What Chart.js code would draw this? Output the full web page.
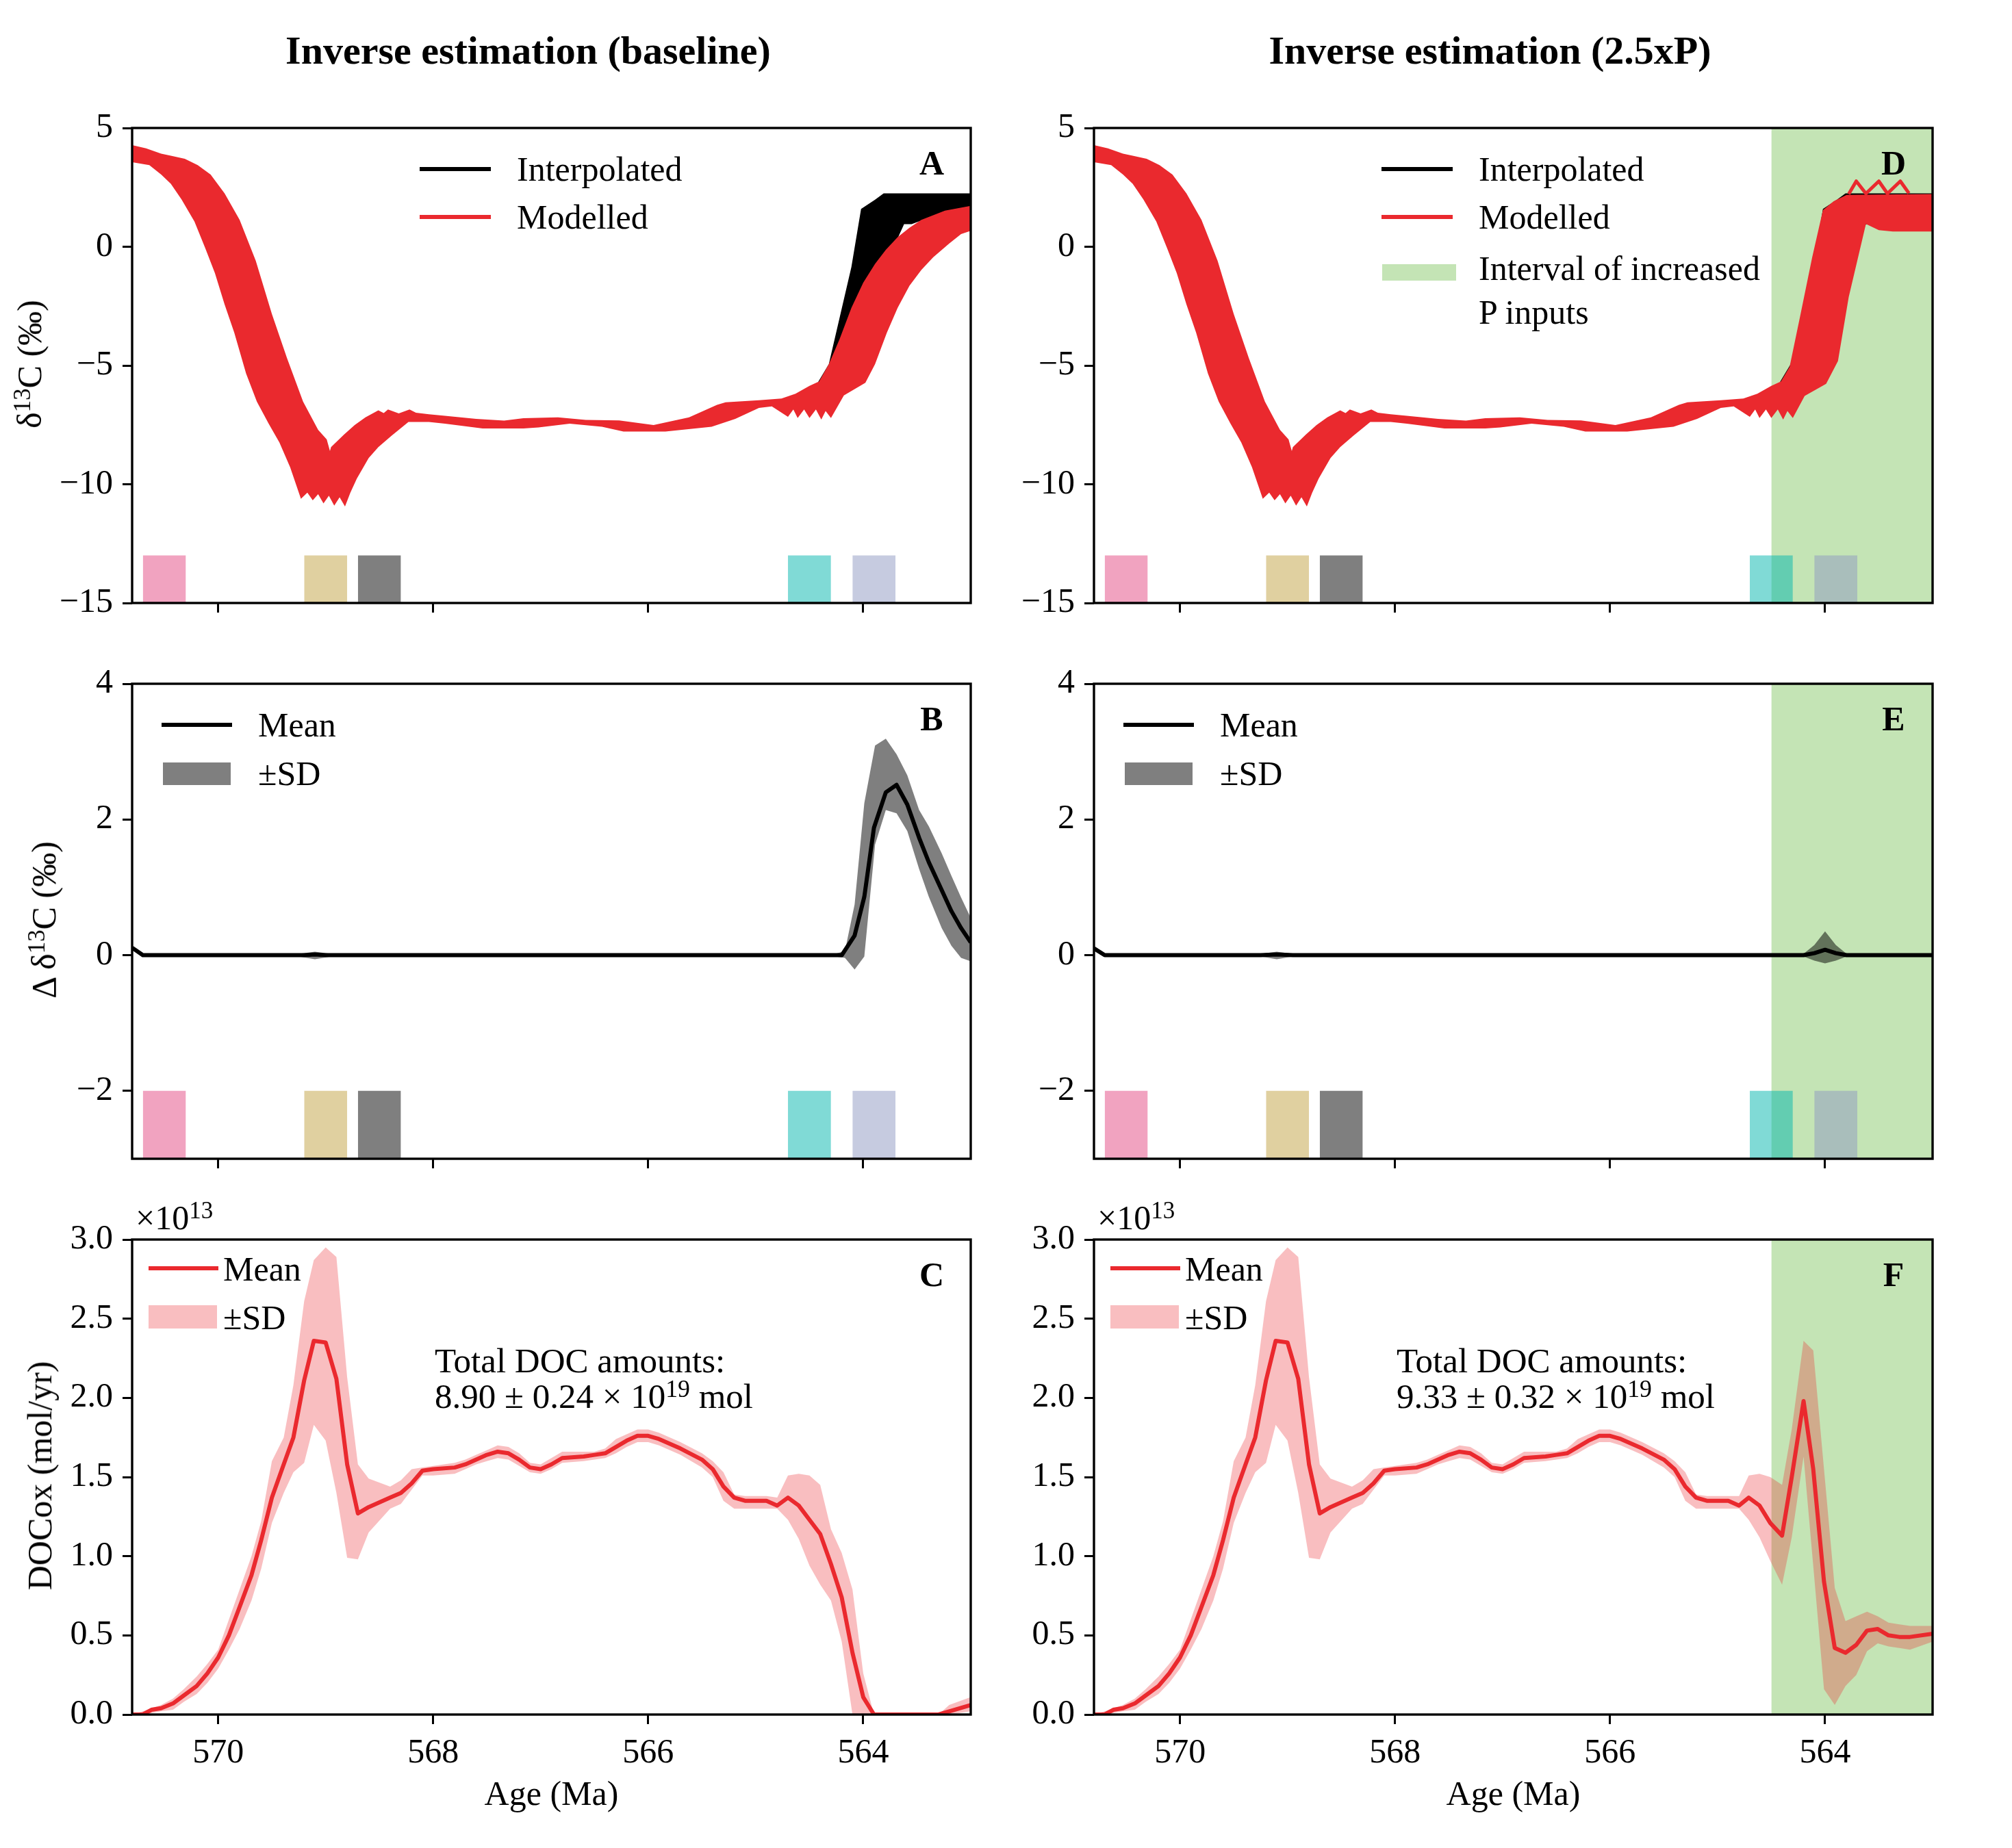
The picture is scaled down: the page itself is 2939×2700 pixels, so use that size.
<!DOCTYPE html>
<html>
<head>
<meta charset="utf-8">
<script src="https://cdn.jsdelivr.net/npm/chart.js@4.4.1/dist/chart.umd.min.js"></script>
<style>
  html, body { margin: 0; padding: 0; background: #fff; }
  body { position: relative; width: 2939px; height: 2700px; overflow: hidden;
         font-family: "Liberation Serif", "Times New Roman", serif; color: #000; }
  canvas { position: absolute; }
  .lbl { position: absolute; white-space: nowrap; font-size: 50px; line-height: 50px; transform: translateY(-50%); }
  .sup { font-size: 70%; position: relative; top: -0.45em; line-height: 0; }
</style>
</head>
<body>
<script>
// ---- data (ages in Ma) ----
const ageTicks = [570, 568, 566, 564];
const d13Ticks = [-15, -10, -5, 0, 5];
const dd13Ticks = [-2, 0, 2, 4];
const docTicks = [0, 0.5, 1, 1.5, 2, 2.5, 3];

// sample bars at the bottom of panels A, B, D, E
const barStart = [570.7, 569.2, 568.7, 564.7, 564.1];
const barEnd = [570.3, 568.8, 568.3, 564.3, 563.7];
// interval of increased P inputs (panels D-F)
const pInterval = [564.5, 563.0];

// modelled d13C envelope, shared part
const ageRedTop = [570.81, 570.67, 570.53, 570.44, 570.31, 570.19, 570.07, 569.94, 569.80, 569.65, 569.50, 569.36, 569.21, 569.07, 568.99, 568.96, 568.95, 568.83, 568.73, 568.63, 568.51, 568.46, 568.42, 568.32, 568.22, 568.16, 568.04, 567.89, 567.60, 567.34, 567.16, 566.84, 566.58, 566.27, 565.95, 565.62, 565.36, 565.28, 564.97, 564.76, 564.63, 564.50, 564.41];
const redTop = [4.29, 4.14, 3.92, 3.83, 3.70, 3.44, 3.04, 2.25, 1.13, -0.59, -2.83, -4.68, -6.52, -7.71, -8.11, -8.60, -8.44, -7.91, -7.51, -7.18, -6.89, -7.00, -6.85, -7.02, -6.85, -6.99, -7.05, -7.12, -7.25, -7.32, -7.22, -7.18, -7.29, -7.31, -7.51, -7.18, -6.66, -6.55, -6.46, -6.39, -6.19, -5.86, -5.67];
const ageRedBot = [570.81, 570.64, 570.53, 570.44, 570.34, 570.22, 570.12, 570.03, 569.94, 569.85, 569.74, 569.64, 569.53, 569.43, 569.33, 569.23, 569.17, 569.12, 569.07, 569.02, 568.97, 568.92, 568.87, 568.82, 568.77, 568.71, 568.60, 568.51, 568.39, 568.23, 568.04, 567.89, 567.54, 567.16, 567.02, 566.73, 566.43, 566.23, 565.84, 565.41, 565.19, 564.97, 564.85, 564.70, 564.65, 564.61, 564.55, 564.50, 564.44, 564.39, 564.35, 564.30];
const redBot = [3.57, 3.44, 3.04, 2.65, 1.99, 1.06, -0.06, -1.11, -2.43, -3.62, -5.34, -6.52, -7.45, -8.24, -9.29, -10.61, -10.35, -10.68, -10.42, -10.81, -10.48, -10.90, -10.55, -10.94, -10.35, -9.76, -8.90, -8.44, -7.97, -7.38, -7.38, -7.45, -7.65, -7.65, -7.61, -7.45, -7.58, -7.78, -7.78, -7.58, -7.25, -6.79, -6.72, -7.16, -6.85, -7.21, -6.85, -7.21, -6.85, -7.28, -6.92, -7.21];
// baseline run, last part
const ageRedTopA = [564.32, 564.22, 564.11, 564.00, 563.89, 563.79, 563.68, 563.57, 563.46, 563.24, 563.00];
const redTopA = [-4.94, -3.89, -2.57, -1.51, -0.72, -0.13, 0.40, 0.80, 1.13, 1.52, 1.72];
const ageRedBotA = [564.18, 563.98, 563.89, 563.78, 563.68, 563.57, 563.46, 563.35, 563.20, 563.09, 563.00];
const redBotA = [-6.26, -5.73, -4.94, -3.62, -2.57, -1.64, -0.98, -0.45, 0.14, 0.53, 0.67];
// 2.5xP run, last part
const ageRedTopD = [564.33, 564.23, 564.12, 564.02, 563.92, 563.80, 563.00];
const redTopD = [-5.06, -2.88, -0.45, 1.54, 1.92, 2.18, 2.22];
const ageRedBotD = [564.19, 563.99, 563.88, 563.78, 563.62, 563.50, 563.37, 563.00];
const redBotD = [-6.28, -5.77, -4.81, -2.12, 0.96, 0.70, 0.64, 0.64];
// thin zigzag on top of the 2.5xP envelope
const ageZigD = [563.78, 563.71, 563.62, 563.50, 563.42, 563.30, 563.22];
const zigD = [2.22, 2.76, 2.24, 2.76, 2.24, 2.76, 2.25];
// interpolated record (visible part)
const ageInterpTop = [564.42, 564.32, 564.11, 564.02, 563.89, 563.81, 563.00];
const interpTop = [-5.70, -4.94, -0.85, 1.59, 1.98, 2.25, 2.25];
const ageInterpBot = [564.42, 564.32, 564.11, 564.00, 563.89, 563.79, 563.68, 563.62, 563.55, 563.46, 563.24, 563.00];
const interpBot = [-5.80, -5.10, -2.80, -1.70, -0.90, -0.25, 0.35, 0.95, 0.95, 1.10, 1.50, 1.70];

// panel B: delta d13C
const ageMeanB = [570.8, 570.7, 569.2, 569.1, 569.0, 564.2, 564.08, 563.99, 563.9, 563.79, 563.69, 563.59, 563.48, 563.39, 563.27, 563.18, 563.09, 563.0];
const meanB = [0.11, 0, 0, 0.01, 0, 0, 0.29, 0.86, 1.88, 2.40, 2.51, 2.22, 1.73, 1.37, 0.96, 0.65, 0.40, 0.19];
const ageSdB = [570.8, 570.7, 569.25, 569.1, 568.95, 564.26, 564.17, 564.08, 563.99, 563.89, 563.79, 563.69, 563.59, 563.48, 563.39, 563.27, 563.18, 563.09, 563.0];
const sdTopB = [0.12, 0.02, 0.02, 0.05, 0.02, 0.02, 0.06, 0.75, 2.24, 3.09, 3.19, 2.96, 2.65, 2.14, 1.90, 1.50, 1.17, 0.85, 0.55];
const sdBotB = [0.10, -0.02, -0.02, -0.06, -0.02, -0.02, -0.04, -0.21, -0.02, 1.63, 2.14, 2.09, 1.83, 1.27, 0.86, 0.40, 0.14, -0.04, -0.09];

// panel E
const ageE = [570.8, 570.7, 569.25, 569.1, 568.95, 564.2, 564.1, 564.0, 563.9, 563.8, 563.0];
const meanE = [0.10, 0, 0, 0.01, 0, 0, 0.03, 0.08, 0.03, 0, 0];
const sdTopE = [0.12, 0.02, 0.02, 0.05, 0.02, 0.02, 0.15, 0.35, 0.15, 0.02, 0.02];
const sdBotE = [0.08, -0.02, -0.02, -0.06, -0.02, -0.02, -0.08, -0.12, -0.08, -0.02, -0.02];

// panel C: DOCox (x 1e13 mol/yr)
const ageC = [570.8, 570.7, 570.62, 570.53, 570.42, 570.32, 570.2, 570.1, 570.0, 569.9, 569.8, 569.69, 569.6, 569.5, 569.39, 569.3, 569.2, 569.11, 569.0, 568.9, 568.8, 568.7, 568.6, 568.4, 568.3, 568.2, 568.1, 568.0, 567.8, 567.7, 567.6, 567.5, 567.4, 567.3, 567.2, 567.1, 567.0, 566.9, 566.8, 566.6, 566.5, 566.4, 566.3, 566.2, 566.1, 566.0, 565.9, 565.7, 565.5, 565.4, 565.3, 565.2, 565.1, 564.9, 564.8, 564.7, 564.6, 564.5, 564.4, 564.3, 564.2, 564.1, 564.0, 563.9, 563.3, 563.2, 563.0];
const meanC = [0, 0, 0.03, 0.04, 0.07, 0.12, 0.18, 0.26, 0.36, 0.50, 0.68, 0.88, 1.10, 1.37, 1.58, 1.75, 2.11, 2.36, 2.35, 2.12, 1.58, 1.27, 1.31, 1.37, 1.40, 1.46, 1.54, 1.55, 1.56, 1.58, 1.61, 1.64, 1.66, 1.65, 1.61, 1.56, 1.55, 1.58, 1.62, 1.63, 1.64, 1.65, 1.69, 1.73, 1.76, 1.76, 1.74, 1.68, 1.61, 1.55, 1.44, 1.37, 1.35, 1.35, 1.32, 1.37, 1.32, 1.23, 1.14, 0.95, 0.74, 0.39, 0.11, 0, 0, 0.02, 0.06];
const sdTopC = [0, 0.02, 0.04, 0.06, 0.10, 0.16, 0.24, 0.32, 0.41, 0.60, 0.79, 1.00, 1.22, 1.60, 1.75, 2.08, 2.61, 2.87, 2.95, 2.89, 2.13, 1.58, 1.49, 1.44, 1.48, 1.55, 1.56, 1.57, 1.59, 1.61, 1.64, 1.67, 1.70, 1.69, 1.65, 1.59, 1.58, 1.62, 1.66, 1.66, 1.66, 1.68, 1.74, 1.77, 1.80, 1.80, 1.78, 1.72, 1.65, 1.60, 1.53, 1.39, 1.38, 1.38, 1.37, 1.51, 1.52, 1.51, 1.45, 1.17, 1.02, 0.79, 0.26, 0, 0, 0.06, 0.11];
const sdBotC = [0, 0, 0.01, 0.02, 0.03, 0.08, 0.13, 0.20, 0.29, 0.41, 0.54, 0.72, 0.92, 1.21, 1.40, 1.53, 1.59, 1.83, 1.73, 1.40, 0.99, 0.98, 1.15, 1.30, 1.33, 1.42, 1.51, 1.51, 1.52, 1.55, 1.58, 1.60, 1.62, 1.61, 1.57, 1.53, 1.52, 1.55, 1.59, 1.60, 1.61, 1.62, 1.65, 1.69, 1.72, 1.72, 1.70, 1.64, 1.56, 1.50, 1.35, 1.30, 1.30, 1.30, 1.30, 1.23, 1.11, 0.94, 0.82, 0.72, 0.46, 0, 0, 0, 0, 0, 0.02];

// panel F: same as C up to 564.9 Ma, then the 2.5xP tail
const ageTailF = [564.8, 564.71, 564.61, 564.51, 564.4, 564.31, 564.2, 564.11, 564.01, 563.91, 563.81, 563.71, 563.61, 563.51, 563.41, 563.31, 563.21, 563.0];
const meanTailF = [1.32, 1.37, 1.32, 1.21, 1.13, 1.50, 1.98, 1.55, 0.84, 0.42, 0.39, 0.44, 0.53, 0.54, 0.50, 0.49, 0.49, 0.51];
const sdTopTailF = [1.38, 1.51, 1.52, 1.50, 1.45, 1.80, 2.36, 2.30, 1.55, 0.80, 0.59, 0.62, 0.65, 0.62, 0.58, 0.57, 0.56, 0.56];
const sdBotTailF = [1.30, 1.23, 1.12, 0.97, 0.82, 1.12, 1.63, 0.94, 0.16, 0.06, 0.18, 0.25, 0.40, 0.45, 0.43, 0.42, 0.41, 0.46];

// ---- layout ----
const COL = [193, 1598], ROW = [183, 995, 1807], W = 1225, H = 698;
const PADL = 180, PADT = 40, PADR = 20, PADB = 100;
const RED = 'rgb(234,41,46)';
const GREEN = 'rgb(196,228,181)';
const barColors = ['rgba(227,71,129,.5)', 'rgba(193,161,65,.5)', 'rgba(0,0,0,.5)', 'rgba(1,181,173,.5)', 'rgba(141,151,193,.5)'];

Chart.defaults.font.family = '"Liberation Serif", "Times New Roman", serif';
Chart.defaults.font.size = 50;
Chart.defaults.color = '#000';

const pts = (ages, vals) => ages.map((a, i) => ({ x: a, y: vals[i] }));
const minus = v => (v < 0 ? '\u2212' + Math.abs(v) : String(v));
const cut = ageC.indexOf(564.9) + 1;

function band(agesTop, top, agesBot, bot, color, order) {
  return [
    { data: pts(agesTop, top), borderWidth: 0, borderColor: 'transparent', fill: false, order },
    { data: pts(agesBot, bot), borderWidth: 0, borderColor: 'transparent', backgroundColor: color, fill: '-1', order }
  ];
}
function block(a0, a1, yTop, yBase, color, order) {
  return { data: [{ x: a0, y: yTop }, { x: a1, y: yTop }], borderWidth: 0, borderColor: 'transparent',
           backgroundColor: color, fill: { value: yBase }, order };
}
function line(ages, vals, color, order, width) {
  return { data: pts(ages, vals), borderColor: color, borderWidth: width || 6, fill: false, order };
}
function bars(yTop, yBase) {
  return barStart.map((a, i) => block(a, barEnd[i], yTop, yBase, barColors[i], 9));
}

const frame = {
  id: 'frame',
  afterDraw(c) {
    const a = c.chartArea, ctx = c.ctx;
    ctx.save();
    ctx.lineWidth = 3.4;
    ctx.strokeStyle = '#000';
    ctx.strokeRect(a.left, a.top, a.right - a.left, a.bottom - a.top);
    ctx.restore();
  }
};

const gridOpts = { drawOnChartArea: false, drawTicks: true, tickLength: 14, tickWidth: 3, tickColor: '#000' };

function makeChart(col, row, datasets, y) {
  const cv = document.createElement('canvas');
  cv.width = PADL + W + PADR;
  cv.height = PADT + H + PADB;
  cv.style.left = (COL[col] - PADL) + 'px';
  cv.style.top = (ROW[row] - PADT) + 'px';
  document.body.appendChild(cv);
  return new Chart(cv, {
    type: 'line',
    data: { datasets },
    options: {
      responsive: false, animation: false, devicePixelRatio: 1, events: [],
      layout: { padding: { left: 0, top: PADT, right: PADR, bottom: 0 }, autoPadding: false },
      plugins: { legend: { display: false }, tooltip: { enabled: false } },
      elements: { point: { radius: 0 }, line: { tension: 0, borderJoinStyle: 'round' } },
      scales: {
        x: {
          type: 'linear', reverse: true, min: 563, max: 570.8,
          afterFit: s => { s.height = PADB; },
          afterBuildTicks: s => { s.ticks = ageTicks.map(v => ({ value: v })); },
          grid: gridOpts, border: { display: false },
          ticks: { display: row === 2, padding: 13, maxRotation: 0, callback: v => String(v) }
        },
        y: {
          type: 'linear', min: y.min, max: y.max,
          afterFit: s => { s.width = PADL; },
          afterBuildTicks: s => { s.ticks = y.ticks.map(v => ({ value: v })); },
          grid: gridOpts, border: { display: false },
          ticks: { padding: 14, callback: y.fmt }
        }
      }
    },
    plugins: [frame]
  });
}

const yA = { min: -15, max: 5, ticks: d13Ticks, fmt: minus };
const yB = { min: -3, max: 4, ticks: dd13Ticks, fmt: minus };
const yC = { min: 0, max: 3, ticks: docTicks, fmt: v => v.toFixed(1) };

// A
makeChart(0, 0, [
  ...bars(-13, -15),
  ...band(ageInterpTop, interpTop, ageInterpBot, interpBot, '#000', 8),
  ...band(ageRedTop.concat(ageRedTopA), redTop.concat(redTopA), ageRedBot.concat(ageRedBotA), redBot.concat(redBotA), RED, 7)
], yA);
// D
makeChart(1, 0, [
  block(pInterval[0], pInterval[1], 5, -15, GREEN, 10),
  ...bars(-13, -15),
  ...band(ageInterpTop, interpTop, ageInterpBot, interpBot, '#000', 8),
  ...band(ageRedTop.concat(ageRedTopD), redTop.concat(redTopD), ageRedBot.concat(ageRedBotD), redBot.concat(redBotD), RED, 7),
  line(ageZigD, zigD, RED, 6, 5)
], yA);
// B
makeChart(0, 1, [
  ...bars(-2, -3),
  ...band(ageSdB, sdTopB, ageSdB, sdBotB, 'rgba(0,0,0,.5)', 8),
  line(ageMeanB, meanB, '#000', 7)
], yB);
// E
makeChart(1, 1, [
  block(pInterval[0], pInterval[1], 4, -3, GREEN, 10),
  ...bars(-2, -3),
  ...band(ageE, sdTopE, ageE, sdBotE, 'rgba(0,0,0,.5)', 8),
  line(ageE, meanE, '#000', 7)
], yB);
// C
makeChart(0, 2, [
  ...band(ageC, sdTopC, ageC, sdBotC, 'rgba(234,41,46,.3)', 8),
  line(ageC, meanC, RED, 7)
], yC);
// F
const ageF = ageC.slice(0, cut).concat(ageTailF);
makeChart(1, 2, [
  block(pInterval[0], pInterval[1], 3, 0, GREEN, 10),
  ...band(ageF, sdTopC.slice(0, cut).concat(sdTopTailF), ageF, sdBotC.slice(0, cut).concat(sdBotTailF), 'rgba(234,41,46,.3)', 8),
  line(ageF, meanC.slice(0, cut).concat(meanTailF), RED, 7)
], yC);

// ---- text and legends ----
function put(html, x, y, css) {
  const d = document.createElement('div');
  d.className = 'lbl';
  d.innerHTML = html;
  d.style.left = x + 'px';
  d.style.top = y + 'px';
  if (css) d.style.cssText += css;
  document.body.appendChild(d);
  return d;
}
function swatch(x, y, w, h, color) {
  const d = document.createElement('div');
  d.style.cssText = `position:absolute;left:${x}px;top:${y - h / 2}px;width:${w}px;height:${h}px;background:${color}`;
  document.body.appendChild(d);
}
const center = 'transform:translate(-50%,-50%);';
const vert = 'transform:translate(-50%,-50%) rotate(-90deg);';

const titles = ['Inverse estimation (baseline)', 'Inverse estimation (2.5xP)'];
const letters = [['A', 'B', 'C'], ['D', 'E', 'F']];
const totals = ['8.90 \u00b1 0.24 \u00d7 10<span class="sup">19</span> mol', '9.33 \u00b1 0.32 \u00d7 10<span class="sup">19</span> mol'];

[0, 1].forEach(c => {
  const px = COL[c];
  put(titles[c], px + W / 2 - 34, 74, center + 'font-size:58px;line-height:58px;font-weight:bold;');
  letters[c].forEach((L, r) => put(L, px + W - 57, ROW[r] + 55, center + 'font-weight:bold;'));
  put('Age (Ma)', px + W / 2, 2620, center);

  // row 0 legend
  let py = ROW[0];
  swatch(px + 420, py + 64, 104, 6, '#000');
  put('Interpolated', px + 562, py + 64);
  swatch(px + 420, py + 134, 104, 6, RED);
  put('Modelled', px + 562, py + 134);
  if (c === 1) {
    swatch(px + 421, py + 215, 108, 24, GREEN);
    put('Interval of increased', px + 562, py + 209);
    put('P inputs', px + 562, py + 273);
  }
  // row 1 legend
  py = ROW[1];
  swatch(px + 43, py + 64, 103, 6, '#000');
  put('Mean', px + 184, py + 64);
  swatch(px + 45, py + 135, 99, 33, 'rgba(0,0,0,.5)');
  put('\u00b1SD', px + 184, py + 135);
  // row 2 legend + annotation
  py = ROW[2];
  swatch(px + 24, py + 46, 102, 6, RED);
  put('Mean', px + 133, py + 47);
  swatch(px + 24, py + 117, 100, 34, 'rgba(234,41,46,.3)');
  put('\u00b1SD', px + 133, py + 118);
  put('Total DOC amounts:', px + 442, py + 181, 'font-size:51px;');
  put(totals[c], px + 442, py + 233, 'font-size:51px;');
  put('\u00d710<span class="sup">13</span>', px + 5, py - 28);
});

put('\u03b4<span class="sup">13</span>C (\u2030)', 43, 532, vert);
put('\u0394 \u03b4<span class="sup">13</span>C (\u2030)', 64, 1344, vert);
put('DOCox (mol/yr)', 58, 2156, vert);
</script>
</body>
</html>
